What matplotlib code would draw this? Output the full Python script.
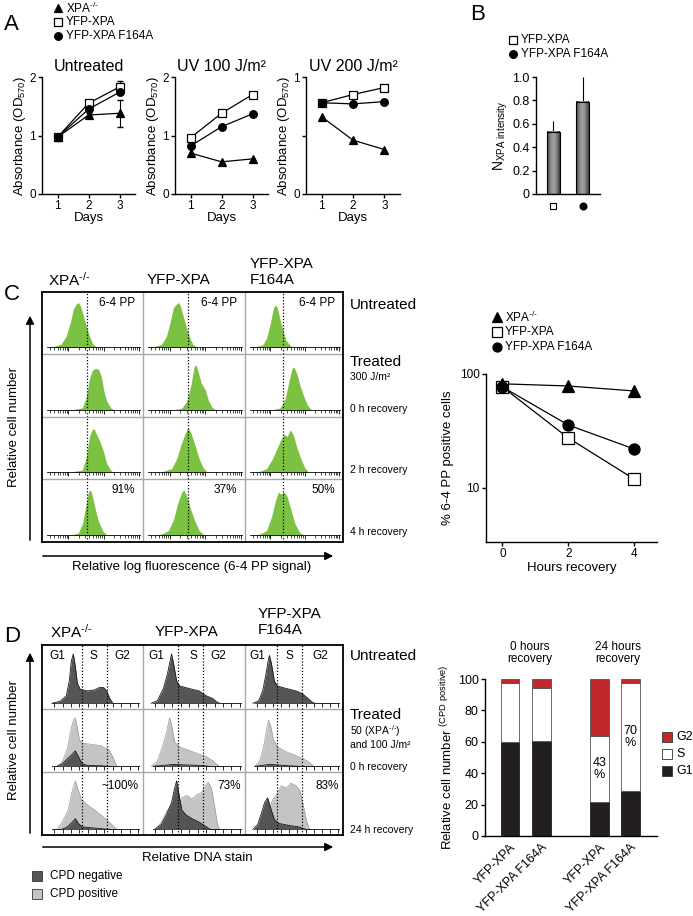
import numpy as np
import matplotlib
matplotlib.use("Agg")
import matplotlib.pyplot as plt
from matplotlib.patches import Rectangle, FancyArrowPatch

plt.rcParams['font.family'] = ['Liberation Sans', 'DejaVu Sans']
plt.rcParams['mathtext.default'] = 'regular'
plt.rcParams['mathtext.fontset'] = 'custom'
plt.rcParams['mathtext.rm'] = 'Liberation Sans'
plt.rcParams['axes.linewidth'] = 1.0

W, H = 693, 916

# ---------------- data ----------------
# A: absorbance (OD570) vs days
days = [1, 2, 3]
a_untreated_xpa = [0.97, 1.35, 1.38]
a_untreated_yfp = [0.97, 1.55, 1.83]
a_untreated_f164a = [0.97, 1.45, 1.74]
a_untreated_xpa_err = [0.02, 0.03, 0.23]
a_untreated_yfp_err = [0.02, 0.03, 0.10]
a_uv100_xpa = [0.70, 0.55, 0.60]
a_uv100_yfp = [0.96, 1.38, 1.70]
a_uv100_f164a = [0.82, 1.15, 1.37]
a_uv200_xpa = [0.66, 0.46, 0.38]
a_uv200_yfp = [0.78, 0.85, 0.91]
a_uv200_f164a = [0.78, 0.77, 0.79]

# B: N_XPA intensity
b_values = [0.53, 0.79]
b_errors = [0.09, 0.21]

# C right: % 6-4 PP positive cells
c_hours = [0, 2, 4]
c_xpa = [82, 78.5, 71]
c_yfp = [77, 27.5, 12]
c_f164a = [77, 35.7, 22]

# C histograms (x = fraction of cell width, h = relative height)
c_untreated = [
    [(0.04, 0), (0.12, 0.02), (0.19, 0.07), (0.24, 0.25), (0.28, 0.55), (0.31, 0.85), (0.34, 0.97),
     (0.36, 1.0), (0.38, 0.93), (0.41, 0.7), (0.44, 0.45), (0.47, 0.25), (0.50, 0.08), (0.54, 0)],
    [(0.04, 0), (0.12, 0.02), (0.18, 0.06), (0.23, 0.25), (0.27, 0.6), (0.30, 0.9), (0.33, 0.97),
     (0.35, 1.0), (0.37, 0.9), (0.40, 0.65), (0.43, 0.4), (0.46, 0.2), (0.49, 0.06), (0.53, 0)],
    [(0.04, 0), (0.12, 0.02), (0.18, 0.05), (0.22, 0.2), (0.26, 0.55), (0.29, 0.88), (0.31, 0.95),
     (0.33, 0.88), (0.36, 0.6), (0.39, 0.35), (0.42, 0.15), (0.46, 0.04), (0.50, 0)],
]
c_0h = [
    [(0.05, 0), (0.30, 0.01), (0.40, 0.05), (0.44, 0.3), (0.47, 0.7), (0.50, 0.88), (0.53, 0.92),
     (0.56, 0.9), (0.59, 0.72), (0.61, 0.45), (0.64, 0.2), (0.68, 0.05), (0.72, 0)],
    [(0.05, 0), (0.30, 0.01), (0.38, 0.04), (0.43, 0.2), (0.47, 0.55), (0.50, 0.95), (0.52, 1.0),
     (0.54, 0.85), (0.57, 0.6), (0.61, 0.45), (0.64, 0.22), (0.68, 0.05), (0.72, 0)],
    [(0.05, 0), (0.28, 0.01), (0.36, 0.05), (0.41, 0.25), (0.45, 0.65), (0.48, 0.92), (0.50, 0.95),
     (0.53, 0.8), (0.56, 0.55), (0.60, 0.3), (0.64, 0.1), (0.68, 0)],
]
c_2h = [
    [(0.05, 0), (0.30, 0.01), (0.40, 0.05), (0.44, 0.35), (0.47, 0.8), (0.50, 0.98), (0.52, 0.95),
     (0.55, 0.8), (0.58, 0.65), (0.61, 0.45), (0.64, 0.2), (0.68, 0.04), (0.71, 0)],
    [(0.05, 0), (0.20, 0.02), (0.28, 0.08), (0.33, 0.3), (0.37, 0.6), (0.41, 0.85), (0.44, 1.0),
     (0.47, 0.88), (0.51, 0.6), (0.55, 0.3), (0.59, 0.1), (0.63, 0)],
    [(0.05, 0), (0.15, 0.02), (0.22, 0.08), (0.28, 0.3), (0.33, 0.55), (0.37, 0.75), (0.40, 0.85),
     (0.43, 0.8), (0.46, 0.95), (0.49, 0.85), (0.53, 0.55), (0.57, 0.3), (0.61, 0.1), (0.65, 0)],
]
c_4h = [
    [(0.05, 0), (0.30, 0.01), (0.36, 0.05), (0.40, 0.25), (0.43, 0.6), (0.46, 0.95), (0.48, 1.0),
     (0.50, 0.85), (0.53, 0.55), (0.56, 0.3), (0.60, 0.1), (0.64, 0)],
    [(0.05, 0), (0.18, 0.02), (0.25, 0.1), (0.30, 0.35), (0.34, 0.7), (0.38, 0.95), (0.40, 1.0),
     (0.43, 0.85), (0.47, 0.55), (0.51, 0.3), (0.55, 0.1), (0.60, 0)],
    [(0.05, 0), (0.15, 0.02), (0.22, 0.1), (0.27, 0.4), (0.31, 0.75), (0.34, 0.95), (0.37, 0.9),
     (0.40, 0.95), (0.43, 0.85), (0.47, 0.55), (0.51, 0.25), (0.56, 0.05), (0.60, 0)],
]
c_percent = ['91%', '37%', '50%']
c_gate = [0.45, 0.44, 0.39]

# D histograms: (CPD positive, CPD negative) per cell
d_untreated_neg = [
    [(0.10, 0), (0.18, 0.04), (0.24, 0.15), (0.27, 0.45), (0.29, 0.85), (0.31, 1.0), (0.33, 0.75),
     (0.35, 0.4), (0.38, 0.28), (0.45, 0.25), (0.52, 0.27), (0.57, 0.32), (0.61, 0.32), (0.64, 0.25),
     (0.67, 0.1), (0.70, 0)],
    [(0.08, 0), (0.14, 0.05), (0.20, 0.3), (0.24, 0.6), (0.27, 0.9), (0.28, 1.0), (0.30, 0.8),
     (0.33, 0.45), (0.36, 0.35), (0.45, 0.3), (0.55, 0.25), (0.62, 0.15), (0.68, 0.1), (0.72, 0.03),
     (0.75, 0)],
    [(0.08, 0), (0.14, 0.05), (0.18, 0.25), (0.21, 0.55), (0.24, 0.9), (0.25, 0.97), (0.27, 0.8),
     (0.30, 0.45), (0.33, 0.35), (0.42, 0.3), (0.52, 0.25), (0.58, 0.2), (0.63, 0.12), (0.68, 0.03),
     (0.71, 0)],
]
d_0h_pos = [
    [(0.15, 0), (0.20, 0.1), (0.25, 0.35), (0.28, 0.7), (0.31, 0.95), (0.33, 1.0), (0.35, 0.8),
     (0.37, 0.55), (0.40, 0.48), (0.50, 0.45), (0.58, 0.43), (0.62, 0.38), (0.66, 0.35), (0.70, 0.2),
     (0.74, 0)],
    [(0.08, 0), (0.14, 0.1), (0.19, 0.4), (0.23, 0.7), (0.25, 0.9), (0.26, 1.0), (0.28, 0.85),
     (0.31, 0.5), (0.36, 0.4), (0.45, 0.33), (0.55, 0.25), (0.62, 0.2), (0.68, 0.12), (0.72, 0.05),
     (0.75, 0)],
    [(0.10, 0), (0.15, 0.1), (0.19, 0.4), (0.22, 0.75), (0.24, 0.95), (0.26, 0.85), (0.29, 0.55),
     (0.33, 0.4), (0.42, 0.3), (0.52, 0.22), (0.60, 0.15), (0.66, 0.08), (0.70, 0)],
]
d_0h_neg = [
    [(0.15, 0), (0.20, 0.05), (0.25, 0.15), (0.30, 0.25), (0.33, 0.32), (0.36, 0.2), (0.40, 0.05),
     (0.45, 0.02), (0.60, 0.01), (0.65, 0)],
    [(0.10, 0), (0.20, 0.02), (0.30, 0.04), (0.40, 0.03), (0.55, 0.02), (0.65, 0)],
    [(0.10, 0), (0.18, 0.02), (0.25, 0.04), (0.32, 0.03), (0.45, 0.01), (0.55, 0)],
]
d_24h_pos = [
    [(0.15, 0), (0.20, 0.15), (0.26, 0.4), (0.30, 0.8), (0.33, 1.0), (0.36, 0.8), (0.39, 0.62),
     (0.45, 0.5), (0.52, 0.4), (0.58, 0.3), (0.64, 0.2), (0.70, 0.08), (0.74, 0)],
    [(0.12, 0), (0.18, 0.15), (0.24, 0.4), (0.30, 0.55), (0.34, 0.5), (0.38, 0.65), (0.43, 0.7),
     (0.48, 0.62), (0.53, 0.72), (0.57, 0.75), (0.61, 0.9), (0.64, 0.97), (0.67, 0.85), (0.70, 0.5),
     (0.73, 0.1), (0.75, 0)],
    [(0.12, 0), (0.18, 0.1), (0.24, 0.35), (0.28, 0.6), (0.33, 0.75), (0.37, 0.9), (0.42, 0.85),
     (0.47, 0.95), (0.52, 0.9), (0.56, 0.8), (0.60, 0.45), (0.63, 0.15), (0.66, 0)],
]
d_24h_neg = [
    [(0.20, 0), (0.25, 0.05), (0.30, 0.15), (0.33, 0.22), (0.36, 0.12), (0.40, 0.05), (0.50, 0.03),
     (0.60, 0.01), (0.65, 0)],
    [(0.12, 0), (0.18, 0.1), (0.23, 0.3), (0.28, 0.55), (0.31, 0.85), (0.33, 1.0), (0.35, 0.75),
     (0.38, 0.4), (0.42, 0.3), (0.48, 0.22), (0.55, 0.15), (0.60, 0.08), (0.66, 0)],
    [(0.08, 0), (0.13, 0.1), (0.17, 0.35), (0.20, 0.55), (0.23, 0.65), (0.26, 0.45), (0.30, 0.2),
     (0.35, 0.12), (0.45, 0.08), (0.55, 0.05), (0.62, 0)],
]
d_gates = [(0.40, 0.64), (0.34, 0.59), (0.33, 0.58)]
d_percent = ['~100%', '73%', '83%']

# D right: cell cycle distribution of CPD positive cells
d_bar_labels = ['YFP-XPA', 'YFP-XPA F164A', 'YFP-XPA', 'YFP-XPA F164A']
d_g1 = [60, 60.5, 21.6, 28.7]
d_s = [37.5, 34, 42, 69]
d_g2 = [2.5, 5.5, 36.4, 2.3]

GREEN = '#7cc242'
DARK = '#555555'
LIGHT = '#c4c4c4'
RED = '#c1272d'

fig = plt.figure(figsize=(W / 100, H / 100), dpi=100)


def px_axes(x0, y0, x1, y1, **kw):
    return fig.add_axes([x0 / W, 1 - y1 / H, (x1 - x0) / W, (y1 - y0) / H], **kw)


def ftext(x, y, s, **kw):
    kw.setdefault('ha', 'left')
    kw.setdefault('va', 'center')
    return fig.text(x / W, 1 - y / H, s, **kw)


def style_axes(ax, fs=8):
    for s in ['top', 'right']:
        ax.spines[s].set_visible(False)
    ax.tick_params(direction='out', length=3, width=1, labelsize=fs, pad=1.5)


def marker_legend(x, y, dy, fs=8.5, ms=5.5, items=None):
    for i, (mk, fc, lab) in enumerate(items):
        yy = 1 - (y + i * dy) / H
        fig.lines.append(plt.Line2D([x / W], [yy], marker=mk, color='black', mfc=fc,
                                    ms=ms, mew=0.9, transform=fig.transFigure))
        ftext(x + 8, y + i * dy, lab, fontsize=fs)


xpa_lab = r'XPA$^{\text{-/-}}$'
series_style = [('^', 'black'), ('s', 'white'), ('o', 'black')]

# ---------------- panel A ----------------
ftext(4, 24, 'A', fontsize=16)
marker_legend(58, 8, 14, items=[('^', 'black', xpa_lab), ('s', 'white', 'YFP-XPA'),
                                ('o', 'black', 'YFP-XPA F164A')])

a_sets = [
    ('Untreated', [a_untreated_xpa, a_untreated_yfp, a_untreated_f164a], 2, (42, 135)),
    ('UV 100 J/m²', [a_uv100_xpa, a_uv100_yfp, a_uv100_f164a], 2, (175, 268)),
    ('UV 200 J/m²', [a_uv200_xpa, a_uv200_yfp, a_uv200_f164a], 1, (306, 400)),
]
for k, (title, series, ymax, (x0, x1)) in enumerate(a_sets):
    ax = px_axes(x0, 77, x1, 194)
    style_axes(ax, fs=8.5)
    for (mk, fc), vals in zip(series_style, series):
        ax.plot(days, vals, color='black', lw=0.9, marker=mk, mfc=fc, mec='black',
                ms=5.5, mew=0.9, zorder=3, clip_on=False)
    if k == 0:
        ax.errorbar(days, a_untreated_xpa, yerr=a_untreated_xpa_err, fmt='none',
                    ecolor='black', elinewidth=0.8, capsize=2.5, zorder=2)
        ax.errorbar(days, a_untreated_yfp, yerr=a_untreated_yfp_err, fmt='none',
                    ecolor='black', elinewidth=0.8, capsize=2.5, zorder=2)
    ax.set_xlim(0.5, 3.5)
    ax.set_ylim(0, ymax)
    ax.set_xticks(days)
    if ymax == 2:
        ax.set_yticks([0, 1, 2])
    else:
        ax.set_yticks([0, 0.5, 1])
        ax.set_yticklabels(['0', '', '1'])
    ax.set_xlabel('Days', fontsize=9.5, labelpad=0)
    ax.set_ylabel(r'Absorbance (OD$_{570}$)', fontsize=9.5, labelpad=1)
    ax.set_title(title, fontsize=11.5, pad=4)

# ---------------- panel B ----------------
ftext(470, 14, 'B', fontsize=16)
marker_legend(513, 40, 14, items=[('s', 'white', 'YFP-XPA'), ('o', 'black', 'YFP-XPA F164A')])
axb = px_axes(536, 77, 600, 194)
style_axes(axb, fs=9)
bx = [1, 2]
bw = 0.42
grad = np.linspace(0, 1, 64)
grad = np.vstack([0.22 + 0.4 * np.sin(np.pi * grad)] * 2)
for xi, v in zip(bx, b_values):
    axb.imshow(grad, extent=(xi - bw / 2, xi + bw / 2, 0, v), aspect='auto', cmap='gray',
               vmin=0, vmax=1, zorder=2)
    axb.add_patch(Rectangle((xi - bw / 2, 0), bw, v, fill=False, ec='black', lw=0.8, zorder=3))
axb.errorbar(bx, b_values, yerr=[[0, 0], b_errors], fmt='none', ecolor='black',
             elinewidth=0.8, capsize=0, zorder=1)
axb.set_xlim(0.4, 2.6)
axb.set_ylim(0, 1.0)
axb.set_yticks([0, 0.2, 0.4, 0.6, 0.8, 1.0])
axb.set_yticklabels(['0', '0.2', '0.4', '0.6', '0.8', '1.0'])
axb.set_xticks(bx)
axb.set_xticklabels(['', ''])
axb.tick_params(axis='x', length=0)
for xi, (mk, fc) in zip(bx, [('s', 'white'), ('o', 'black')]):
    axb.plot([xi], [-0.1], marker=mk, mfc=fc, mec='black', ms=5, mew=0.8, clip_on=False)
axb.set_ylabel(r'N$_{XPA\ intensity}$', fontsize=10, labelpad=2)


# ---------------- histogram grids ----------------
def draw_grid(x_edges, y_edges):
    axg = px_axes(x_edges[0], y_edges[0], x_edges[-1], y_edges[-1])
    axg.set_xlim(x_edges[0], x_edges[-1])
    axg.set_ylim(y_edges[-1], y_edges[0])
    for xe in x_edges[1:-1]:
        axg.axvline(xe, color='#a8a8a8', lw=1.0)
    for ye in y_edges[1:-1]:
        axg.axhline(ye, color='#a8a8a8', lw=1.0)
    axg.set_xticks([])
    axg.set_yticks([])
    for s in axg.spines.values():
        s.set_linewidth(1.3)
    return axg


def cell_axes(x0, y0, x1, y1, base=0.1, top=0.84):
    ax = px_axes(x0, y0, x1, y1)
    ax.patch.set_alpha(0)
    span = 1.0 / (top - base)
    ax.set_ylim(-base * span, -base * span + span)
    ax.set_xlim(0, 1)
    for s in ['top', 'right', 'left']:
        ax.spines[s].set_visible(False)
    ax.spines['bottom'].set_position(('data', 0))
    ax.spines['bottom'].set_linewidth(0.6)
    ax.spines['bottom'].set_bounds(0.05, 0.97)
    ax.set_yticks([])
    ax.tick_params(axis='x', which='both', direction='out', labelbottom=False)
    return ax


def knots_xy(knots):
    xs = [p[0] for p in knots]
    ys = [p[1] for p in knots]
    return xs, ys


# ---------------- panel C ----------------
cx = [42, 143, 245, 343]
cy = [292, 354, 417, 479, 542]
ftext(4, 294, 'C', fontsize=16)
ftext(48, 280, xpa_lab, fontsize=11)
ftext(147, 280, 'YFP-XPA', fontsize=11)
ftext(250, 272, 'YFP-XPA\nF164A', fontsize=11, linespacing=1.15)
draw_grid(cx, cy)

log_major = [0.26, 0.61, 0.96]
minor_offsets = [0.105, 0.167, 0.21, 0.245, 0.272, 0.295, 0.315, 0.333]
c_rows = [c_untreated, c_0h, c_2h, c_4h]
for r, row in enumerate(c_rows):
    for c, knots in enumerate(row):
        ax = cell_axes(cx[c], cy[r], cx[c + 1], cy[r + 1], base=0.11, top=0.83)
        xs, ys = knots_xy(knots)
        ax.fill_between(xs, 0, ys, color=GREEN, lw=0, zorder=2)
        ax.axvline(c_gate[c], color='black', ls=(0, (1, 1.5)), lw=0.9, zorder=3)
        majors = [m for m in log_major if m < 0.98]
        minors = [m - 0.35 + o for m in log_major for o in minor_offsets if 0.05 < m - 0.35 + o < 0.97]
        ax.set_xticks(majors)
        ax.set_xticks(minors, minor=True)
        ax.tick_params(axis='x', which='major', length=3, width=0.6)
        ax.tick_params(axis='x', which='minor', length=1.8, width=0.5)
        if r == 0:
            ax.text(0.92, 0.82, '6-4 PP', transform=ax.transAxes, ha='right', va='center', fontsize=8.5)
        if r == 3:
            ax.text(0.92, 0.82, c_percent[c], transform=ax.transAxes, ha='right', va='center',
                    fontsize=8.5)

ftext(350, 305, 'Untreated', fontsize=11)
ftext(350, 362, 'Treated', fontsize=11)
ftext(350, 377, '300 J/m²', fontsize=7.5)
ftext(350, 409, '0 h recovery', fontsize=7.5)
ftext(350, 470, '2 h recovery', fontsize=7.5)
ftext(350, 532, '4 h recovery', fontsize=7.5)

arrow_kw = dict(arrowstyle='-|>', mutation_scale=12, color='black', lw=1.1,
                transform=fig.transFigure)
fig.patches.append(FancyArrowPatch((30 / W, 1 - 543 / H), (30 / W, 1 - 313 / H), **arrow_kw))
fig.patches.append(FancyArrowPatch((40 / W, 1 - 556 / H), (336 / W, 1 - 556 / H), **arrow_kw))
ftext(14, 427, 'Relative cell number', fontsize=9.5, rotation=90, ha='center')
ftext(192, 567, 'Relative log fluorescence (6-4 PP signal)', fontsize=9.5, ha='center')

# C right line chart
marker_legend(497, 317, 15, fs=8.5, ms=6.5, items=[('^', 'black', xpa_lab), ('s', 'white', 'YFP-XPA'),
                                                   ('o', 'black', 'YFP-XPA F164A')])
axc = px_axes(486, 374, 657, 542)
style_axes(axc, fs=8.5)
for (mk, fc), vals in zip(series_style, [c_xpa, c_yfp, c_f164a]):
    axc.plot(c_hours, vals, color='black', lw=0.9, marker=mk, mfc=fc, mec='black',
             ms=8, mew=0.9, clip_on=False, zorder=3)
axc.set_yscale('log')
axc.set_ylim(10 ** 0.526, 100)
axc.set_yticks([10, 100])
axc.set_yticklabels(['10', '100'])
axc.yaxis.set_minor_locator(matplotlib.ticker.NullLocator())
axc.set_xlim(-0.5, 4.7)
axc.set_xticks(c_hours)
axc.set_xlabel('Hours recovery', fontsize=9.5, labelpad=1)
axc.set_ylabel('% 6-4 PP positive cells', fontsize=9.5, labelpad=4)

# ---------------- panel D ----------------
dx = [42, 143, 245, 343]
dy = [645, 709, 772, 835]
ftext(4, 636, 'D', fontsize=16)
ftext(50, 632, xpa_lab, fontsize=11)
ftext(155, 632, 'YFP-XPA', fontsize=11)
ftext(258, 622, 'YFP-XPA\nF164A', fontsize=11, linespacing=1.15)
draw_grid(dx, dy)

phase_pos = [(0.15, 0.51, 0.79), (0.13, 0.49, 0.74), (0.13, 0.45, 0.77)]
d_rows = [(None, d_untreated_neg), (d_0h_pos, d_0h_neg), (d_24h_pos, d_24h_neg)]
for r, (pos_row, neg_row) in enumerate(d_rows):
    for c in range(3):
        ax = cell_axes(dx[c], dy[r], dx[c + 1], dy[r + 1], base=0.09, top=0.86)
        ax.spines['bottom'].set_bounds(0.1, 0.96)
        if pos_row is not None:
            xs, ys = knots_xy(pos_row[c])
            ax.fill_between(xs, 0, ys, color=LIGHT, lw=0, zorder=2)
            ax.plot(xs, ys, color='#9a9a9a', lw=0.5, zorder=2)
        xs, ys = knots_xy(neg_row[c])
        ax.fill_between(xs, 0, ys, color=DARK, lw=0, zorder=3)
        ax.plot(xs, ys, color='#1a1a1a', lw=0.6, zorder=3)
        for g in d_gates[c]:
            ax.axvline(g, color='black', ls=(0, (1, 1.5)), lw=0.9, zorder=4)
        ax.set_xticks(np.arange(0.12, 0.96, 0.083))
        ax.tick_params(axis='x', which='major', length=3, width=0.6)
        if r == 0:
            for lab, px in zip(['G1', 'S', 'G2'], phase_pos[c]):
                ax.text(px, 0.83, lab, transform=ax.transAxes, ha='center', va='center', fontsize=8.5)
        if r == 2:
            ax.text(0.96, 0.78, d_percent[c], transform=ax.transAxes, ha='right', va='center',
                    fontsize=8.5)

ftext(350, 656, 'Untreated', fontsize=11)
ftext(350, 715, 'Treated', fontsize=11)
ftext(350, 731, r'50 (XPA$^{\text{-/-}}$)', fontsize=7.5)
ftext(350, 745, 'and 100 J/m²', fontsize=7.5)
ftext(350, 767, '0 h recovery', fontsize=7.5)
ftext(350, 830, '24 h recovery', fontsize=7.5)

fig.patches.append(FancyArrowPatch((30 / W, 1 - 836 / H), (30 / W, 1 - 650 / H), **arrow_kw))
fig.patches.append(FancyArrowPatch((40 / W, 1 - 847 / H), (336 / W, 1 - 847 / H), **arrow_kw))
ftext(14, 740, 'Relative cell number', fontsize=9.5, rotation=90, ha='center')
ftext(197, 858, 'Relative DNA stain', fontsize=9.5, ha='center')

for i, (fc, lab) in enumerate([(DARK, 'CPD negative'), (LIGHT, 'CPD positive')]):
    yy = 876 + i * 18
    fig.patches.append(Rectangle(((32) / W, 1 - (yy + 5) / H), 10 / W, 10 / H, fc=fc, ec='#333333',
                                 lw=0.6, transform=fig.transFigure))
    ftext(50, yy, lab, fontsize=8.5)

# D right stacked bars
axd = px_axes(485, 679, 657, 836)
style_axes(axd, fs=9)
bar_x = [1, 2, 3.85, 4.85]
axd.bar(bar_x, d_g1, width=0.6, color='#231f20', edgecolor='#231f20', lw=0.6)
axd.bar(bar_x, d_s, width=0.6, bottom=d_g1, color='white', edgecolor='#555555', lw=0.6)
axd.bar(bar_x, d_g2, width=0.6, bottom=np.add(d_g1, d_s), color=RED, edgecolor='#555555', lw=0.6)
axd.set_xlim(0.2, 5.7)
axd.set_ylim(0, 100)
axd.set_yticks([0, 20, 40, 60, 80, 100])
axd.set_xticks(bar_x)
axd.set_xticklabels(d_bar_labels, rotation=45, ha='right', rotation_mode='anchor', fontsize=9)
axd.tick_params(axis='x', length=0, pad=4)
axd.set_ylabel(r'Relative cell number $^{(CPD\ positive)}$', fontsize=9.5, labelpad=2)
axd.text(bar_x[2], 42.7, '43\n%', ha='center', va='center', fontsize=9, linespacing=1.0)
axd.text(bar_x[3], 63, '70\n%', ha='center', va='center', fontsize=9, linespacing=1.0)
ftext(530, 653, '0 hours\nrecovery', fontsize=8.5, ha='center', linespacing=1.1)
ftext(618, 653, '24 hours\nrecovery', fontsize=8.5, ha='center', linespacing=1.1)
for i, (fc, lab) in enumerate([(RED, 'G2'), ('white', 'S'), ('#231f20', 'G1')]):
    yy = 737 + i * 17
    fig.patches.append(Rectangle((662 / W, 1 - (yy + 5) / H), 10 / W, 10 / H, fc=fc, ec='#333333',
                                 lw=0.6, transform=fig.transFigure))
    ftext(676, yy, lab, fontsize=9)

fig.savefig('out.png', dpi=100)
